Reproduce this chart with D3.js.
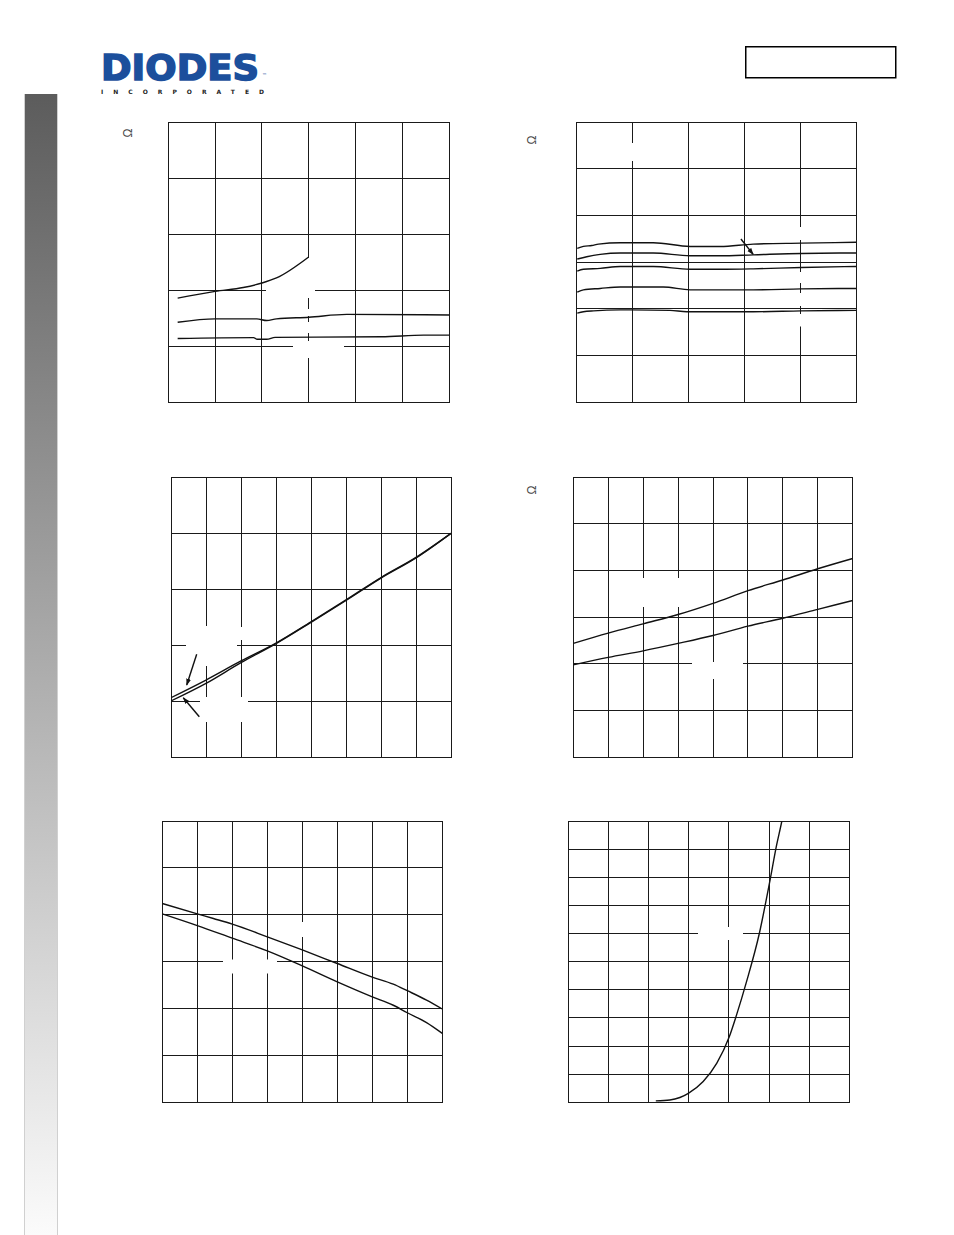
<!DOCTYPE html>
<html><head><meta charset="utf-8">
<script src="https://cdn.jsdelivr.net/npm/d3@7"></script>
<style>html,body{margin:0;padding:0;background:#fff;}svg{display:block;}</style>
</head><body>
<script>
// ---------- DATA (grid units) ----------
// Chart 1 (top-left)
const c1_curveA = [[0.2,1.86],[1.0,1.98],[1.6,2.05],[2.0,2.13],[2.31,2.22],[2.99,2.59]];
const c1_curveB = [[0.2,1.43],[1.0,1.49],[1.89,1.49],[2.1,1.46],[2.31,1.49],[3.0,1.52],[3.81,1.57],[6.0,1.56]];
const c1_curveC = [[0.2,1.14],[1.82,1.155],[1.9,1.125],[2.1,1.125],[2.28,1.16],[4.55,1.17],[5.45,1.2],[6.0,1.2]];
// Chart 2 (top-right)
const c2_curve1 = [[0.01,3.30],[0.12,3.34],[0.27,3.36],[0.39,3.39],[0.78,3.42],[1.37,3.42],[2.03,3.34],[2.57,3.34],[3.16,3.39],[4.02,3.41],[5.0,3.43]];
const c2_curve2 = [[0.01,3.07],[0.18,3.12],[0.42,3.17],[0.78,3.20],[1.37,3.20],[2.03,3.14],[2.57,3.14],[3.16,3.16],[4.02,3.19],[5.0,3.20]];
const c2_curve3 = [[0.01,2.81],[0.12,2.85],[0.42,2.87],[0.78,2.91],[1.37,2.91],[2.03,2.85],[2.57,2.85],[3.16,2.86],[4.02,2.89],[5.0,2.91]];
const c2_curve4 = [[0.01,2.36],[0.12,2.41],[0.42,2.44],[0.78,2.47],[1.55,2.47],[2.03,2.41],[2.57,2.41],[3.16,2.41],[4.02,2.43],[5.0,2.44]];
const c2_curve5 = [[0.01,1.91],[0.12,1.94],[0.30,1.96],[0.78,1.98],[1.67,1.97],[1.97,1.94],[2.57,1.94],[3.16,1.94],[4.02,1.96],[5.0,1.97]];
// Chart 3 (middle-left)
const c3_upper = [[0,1.065],[1,1.38],[2,1.72],[3,2.04],[4,2.42],[5,2.81],[6,3.21],[7,3.57],[8,4.0]];
const c3_lower = [[0,1.006],[1,1.32],[2,1.69],[3,2.03],[4,2.41],[5,2.80],[6,3.20],[7,3.56],[8,4.0]];
// Chart 4 (middle-right)
const c4_upper = [[0,2.44],[1,2.66],[2,2.86],[3,3.06],[4,3.30],[5,3.57],[6,3.80],[7,4.04],[8,4.26]];
const c4_lower = [[0,1.98],[1,2.14],[2,2.28],[3,2.44],[4,2.61],[5,2.81],[6,2.98],[7,3.17],[8,3.36]];
// Chart 5 (bottom-left)
const c5_upper = [[0,4.24],[1,4.02],[1.46,3.92],[2,3.80],[3,3.53],[4,3.25],[5,2.96],[6,2.67],[6.6,2.52],[7,2.38],[7.55,2.18],[8,1.99]];
const c5_lower = [[0,4.02],[1,3.77],[2,3.50],[3,3.23],[4,2.91],[5,2.57],[6,2.25],[6.6,2.07],[7,1.91],[7.55,1.70],[8,1.47]];
// Chart 6 (bottom-right)
const c6_curve = [[2.18,0.05],[2.53,0.08],[2.78,0.17],[2.99,0.32],[3.36,0.74],[3.70,1.39],[4.01,2.33],[4.19,3.10],[4.44,4.29],[4.76,6.01],[5.01,7.78],[5.19,9.15],[5.32,10.0],[5.4,10.6]];

// ---------- LAYOUT ----------
const charts = [
  {x:168.3,y:122.3,w:281,h:280,xd:[0,6],yd:[0,5],nx:6,ny:5,series:[c1_curveA,c1_curveB,c1_curveC],
   masks:[[266,284,48,13],[303,258,12,40],[303,309,12,7],[303,322,12,11],[293,341,51,17]],
   arrows:[], omega:[128,133]},
  {x:576.7,y:122.3,w:279.3,h:280,xd:[0,5],yd:[0,6],nx:5,ny:6,series:[c2_curve1,c2_curve2,c2_curve3,c2_curve4,c2_curve5],
   masks:[[627,143,11,18],[795,227,12,13],[795,272,12,11],[795,293,12,13],[795,314,12,12.5]],
   arrows:[[2.94,3.50,3.16,3.17]], omega:[532,140]},
  {x:171,y:477.3,w:280,h:280,xd:[0,8],yd:[0,5],nx:8,ny:5,series:[c3_upper,c3_lower],
   masks:[[186,626,51,40],[237,627,9,13],[200,697,48,25]],
   arrows:[[0.734,1.84,0.449,1.29],[0.809,0.725,0.351,1.064]], omega:null},
  {x:573.3,y:477.3,w:279.4,h:280,xd:[0,8],yd:[0,6],nx:8,ny:6,series:[c4_upper,c4_lower],
   masks:[[640,578,42,29],[692,662,51,17]],
   arrows:[], omega:[532,490]},
  {x:162.3,y:821,w:280,h:281.3,xd:[0,8],yd:[0,6],nx:8,ny:6,series:[c5_upper,c5_lower],
   masks:[[223,959.5,54,14],[296,922,12,15]],
   arrows:[], omega:null},
  {x:568.3,y:821,w:281,h:281.3,xd:[0,7],yd:[0,10],nx:7,ny:10,series:[c6_curve],
   masks:[[698,927,45,13]],
   arrows:[], omega:null}
];

const svg = d3.select("body").append("svg").attr("width",954).attr("height",1235);
const defs = svg.append("defs");
const grad = defs.append("linearGradient").attr("id","bar").attr("x1",0).attr("y1",0).attr("x2",0).attr("y2",1);
grad.append("stop").attr("offset",0).attr("stop-color","#5c5c5c");
grad.append("stop").attr("offset",0.5).attr("stop-color","#acacac");
grad.append("stop").attr("offset",1).attr("stop-color","#fbfbfb");
defs.append("marker").attr("id","ah").attr("viewBox","0 0 10 10").attr("refX",9).attr("refY",5)
  .attr("markerWidth",7).attr("markerHeight",7).attr("orient","auto").attr("markerUnits","userSpaceOnUse")
  .append("path").attr("d","M0,1.5 L10,5 L0,8.5 Z").attr("fill","#111");

// left gray bar
svg.append("rect").attr("x",24).attr("y",94).attr("width",34).attr("height",1141).attr("fill","url(#bar)");
svg.append("line").attr("x1",24.5).attr("x2",24.5).attr("y1",94).attr("y2",1235).attr("stroke","#d0d0d0");
svg.append("line").attr("x1",57.5).attr("x2",57.5).attr("y1",94).attr("y2",1235).attr("stroke","#d0d0d0");

// logo
svg.append("text").attr("transform","translate(101,79.5) scale(1,1.18)").attr("textLength",158).attr("lengthAdjust","spacingAndGlyphs")
  .attr("font-family","DejaVu Sans").attr("font-weight","bold").attr("font-size",30).attr("fill","#1c4f9c")
  .attr("stroke","#1c4f9c").attr("stroke-width",1.3).text("DIODES");
svg.append("text").attr("x",262).attr("y",77).attr("font-family","DejaVu Sans").attr("font-size",5).attr("fill","#1c4f9c").text("™");
svg.append("text").attr("x",101).attr("y",94).attr("textLength",163).attr("lengthAdjust","spacing")
  .attr("font-family","DejaVu Sans").attr("font-weight","bold").attr("font-size",6).attr("fill","#222").text("INCORPORATED");

// top-right box
svg.append("rect").attr("x",745.75).attr("y",46.75).attr("width",150).attr("height",31).attr("fill","none").attr("stroke","#000").attr("stroke-width",1.5);

charts.forEach((c,i)=>{
  const xs = d3.scaleLinear().domain(c.xd).range([c.x,c.x+c.w]);
  const ys = d3.scaleLinear().domain(c.yd).range([c.y+c.h,c.y]);
  const g = svg.append("g");
  const grid = g.append("g").attr("stroke","#1a1a1a").attr("stroke-width",1).attr("shape-rendering","crispEdges");
  d3.range(1,c.nx).map(k=>c.xd[0]+(c.xd[1]-c.xd[0])*k/c.nx).forEach(v=>{
    grid.append("line").attr("x1",xs(v)).attr("x2",xs(v)).attr("y1",c.y).attr("y2",c.y+c.h);
  });
  d3.range(1,c.ny).map(k=>c.yd[0]+(c.yd[1]-c.yd[0])*k/c.ny).forEach(v=>{
    grid.append("line").attr("y1",ys(v)).attr("y2",ys(v)).attr("x1",c.x).attr("x2",c.x+c.w);
  });
  // masks (blank label areas)
  c.masks.forEach(m=>g.append("rect").attr("x",m[0]).attr("y",m[1]).attr("width",m[2]).attr("height",m[3]).attr("fill","#fff"));
  g.append("rect").attr("x",c.x).attr("y",c.y).attr("width",c.w).attr("height",c.h)
    .attr("fill","none").attr("stroke","#1a1a1a").attr("stroke-width",1).attr("shape-rendering","crispEdges");
  defs.append("clipPath").attr("id","clip"+i).append("rect").attr("x",c.x).attr("y",c.y).attr("width",c.w).attr("height",c.h);
  const line = d3.line().x(d=>xs(d[0])).y(d=>ys(d[1])).curve(d3.curveMonotoneX);
  c.series.forEach(s=>{
    g.append("path").attr("d",line(s)).attr("fill","none").attr("stroke","#111").attr("stroke-width",1.4)
      .attr("clip-path","url(#clip"+i+")");
  });
  c.arrows.forEach(a=>{
    g.append("line").attr("x1",xs(a[0])).attr("y1",ys(a[1])).attr("x2",xs(a[2])).attr("y2",ys(a[3]))
      .attr("stroke","#111").attr("stroke-width",1.4).attr("marker-end","url(#ah)");
  });
  if(c.omega){
    svg.append("text").attr("transform",`translate(${c.omega[0]+4},${c.omega[1]}) rotate(-90)`)
      .attr("text-anchor","middle").attr("font-family","Liberation Sans").attr("font-size",12).attr("fill","#444").text("Ω");
  }
});
</script>
</body></html>
